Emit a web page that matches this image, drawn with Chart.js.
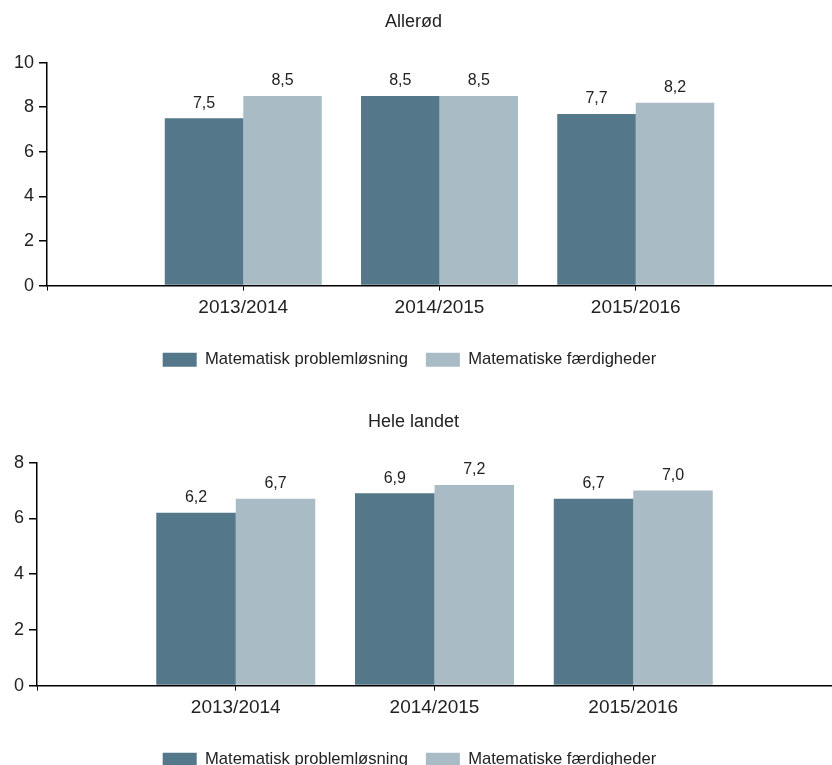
<!DOCTYPE html>
<html>
<head>
<meta charset="utf-8">
<script src="https://cdn.jsdelivr.net/npm/chart.js@4"></script>
<style>
  html, body { margin: 0; padding: 0; background: #fff; overflow: hidden; }
  .chart-box { position: absolute; left: 0; width: 838px; height: 378px; }
</style>
</head>
<body>
<div class="chart-box" style="top:0"><canvas id="chart-allerod"></canvas></div>
<div class="chart-box" style="top:400px"><canvas id="chart-landet"></canvas></div>
<script>
const years = ["2013/2014", "2014/2015", "2015/2016"];
const seriesNames = ["Matematisk problemløsning", "Matematiske færdigheder"];

// Allerød
const allerodProblem = [7.5, 8.5, 7.7];
const allerodFaerdig = [8.5, 8.5, 8.2];
const allerodTicks = [0, 2, 4, 6, 8, 10];

// Hele landet
const landetProblem = [6.2, 6.9, 6.7];
const landetFaerdig = [6.7, 7.2, 7.0];
const landetTicks = [0, 2, 4, 6, 8];

const darkColor = "rgb(84, 120, 138)";
const lightColor = "rgb(169, 187, 197)";
const textColor = "#222";
const fontFam = "Arial, 'Liberation Sans', sans-serif";

// tom plads før første og efter sidste kategori
const pad = (arr) => [null, ...arr, null];

// værdier over søjlerne, med komma
const valueLabels = {
  id: "valueLabels",
  afterDatasetsDraw(chart) {
    const ctx = chart.ctx;
    ctx.save();
    ctx.font = "16px " + fontFam;
    ctx.fillStyle = textColor;
    ctx.textAlign = "center";
    ctx.textBaseline = "bottom";
    chart.data.datasets.forEach((ds, i) => {
      chart.getDatasetMeta(i).data.forEach((el, j) => {
        const v = ds.data[j];
        if (v == null) return;
        ctx.fillText(v.toFixed(1).replace(".", ","), el.x, el.y - 7);
      });
    });
    ctx.restore();
  },
};

// titel og legende lidt til venstre (canvas er bredere end vinduet)
const shiftBoxes = {
  id: "shiftBoxes",
  afterLayout(chart) {
    const t = chart.titleBlock, l = chart.legend;
    if (t) { t.left -= 10; t.right -= 10; }
    if (l) { l.left -= 14; l.right -= 14; }
  },
};

function makeChart(id, title, problem, faerdig, ticks) {
  const max = ticks[ticks.length - 1];
  return new Chart(document.getElementById(id), {
    type: "bar",
    data: {
      labels: pad(years).map((v) => v || ""),
      datasets: [
        { label: seriesNames[0], data: pad(problem), backgroundColor: darkColor, borderWidth: 0 },
        { label: seriesNames[1], data: pad(faerdig), backgroundColor: lightColor, borderWidth: 0 },
      ],
    },
    options: {
      responsive: true,
      maintainAspectRatio: false,
      animation: false,
      datasets: { bar: { categoryPercentage: 0.8, barPercentage: 1.0 } },
      layout: { padding: { left: 9, right: 0, top: 0, bottom: 0 } },
      plugins: {
        title: {
          display: true,
          text: title,
          color: textColor,
          font: { family: fontFam, size: 18, weight: "normal" },
          padding: { top: 11, bottom: 30 },
        },
        legend: {
          position: "bottom",
          labels: {
            color: textColor,
            font: { family: fontFam, size: 16.6 },
            boxWidth: 34,
            boxHeight: 14,
            padding: 18,
          },
        },
        tooltip: { enabled: false },
      },
      scales: {
        x: {
          offset: false,
          grid: { offset: false, drawOnChartArea: false, color: "#000", tickLength: 5 },
          border: { color: "#000", width: 1.5 },
          ticks: { color: textColor, font: { family: fontFam, size: 19 }, padding: 6, maxRotation: 0, autoSkip: false },
          afterFit: (axis) => { axis.height += 8; },
        },
        y: {
          min: 0,
          max: max,
          afterBuildTicks: (axis) => { axis.ticks = ticks.map((v) => ({ value: v })); },
          grid: { drawOnChartArea: false, color: "#000", tickLength: 8, lineWidth: 1.5 },
          border: { color: "#000", width: 1.5 },
          ticks: { color: textColor, font: { family: fontFam, size: 18 }, padding: 5 },
        },
      },
    },
    plugins: [valueLabels, shiftBoxes],
  });
}

makeChart("chart-allerod", "Allerød", allerodProblem, allerodFaerdig, allerodTicks);
makeChart("chart-landet", "Hele landet", landetProblem, landetFaerdig, landetTicks);
</script>
</body>
</html>
